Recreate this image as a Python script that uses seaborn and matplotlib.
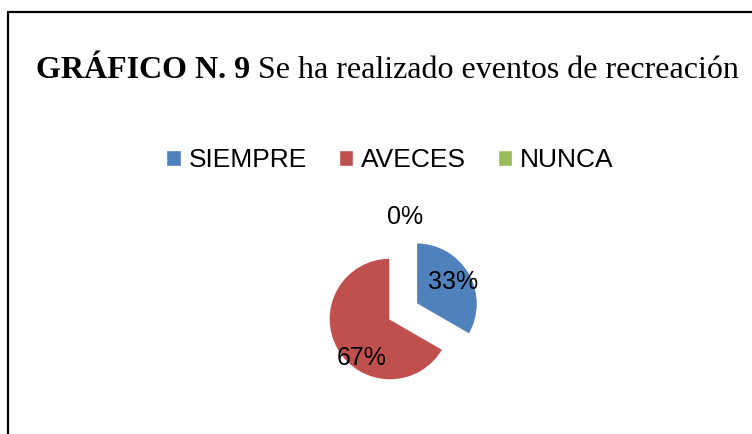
import matplotlib
matplotlib.use("Agg")
import matplotlib.pyplot as plt
import seaborn as sns
from matplotlib.lines import Line2D

sns.set_style("white")
plt.rcParams["font.family"] = ["Liberation Sans", "DejaVu Sans"]
plt.rcParams["text.color"] = "black"

# Datos del gráfico
categorias = ["SIEMPRE", "AVECES", "NUNCA"]
valores = [1, 2, 0]
colores = ["#4F81BD", "#C0504D", "#9BBB59"]
titulo_negrita = "GRÁFICO N. 9"
titulo_normal = " Se ha realizado eventos de recreación"

W, H = 752, 434
fig = plt.figure(figsize=(W / 100, H / 100), dpi=100)
fig.patch.set_facecolor("white")

# Marco del gráfico (recortado a la derecha y abajo)
fig.add_artist(Line2D([8 / W, 1], [1 - 12 / H, 1 - 12 / H], color="black", lw=1.6))
fig.add_artist(Line2D([8 / W, 8 / W], [0, 1 - 12 / H], color="black", lw=1.6))

# Título: parte en negrita + parte normal
renderer = fig.canvas.get_renderer()
t1 = fig.text(36 / W, 1 - 78 / H, titulo_negrita, fontsize=23, fontweight="bold",
              family="Liberation Serif", ha="left", va="baseline", color="black")
bb = t1.get_window_extent(renderer=renderer)
fig.text(bb.x1 / W, 1 - 78 / H, titulo_normal, fontsize=23,
         family="Liberation Serif", ha="left", va="baseline", color="black")

# Pastel
R = 61
cx, cy = 390, 319
half = 120
ax = fig.add_axes([(cx - half) / W, (H - cy - half) / H, 2 * half / W, 2 * half / H])
wedges, textos, autotextos = ax.pie(
    valores, colors=colores, explode=[0.5, 0, 0.97], startangle=90,
    counterclock=False, autopct="%1.0f%%", pctdistance=0.7,
    textprops={"fontsize": 18, "color": "black"},
)
# ajuste fino de las etiquetas como en Excel
autotextos[1].set_position((-0.46, -0.64))
autotextos[2].set_x(0.25)
lim = half / R
ax.set_xlim(-lim, lim)
ax.set_ylim(-lim, lim)
ax.set_aspect("equal")
ax.axis("off")

fig.legend(wedges, categorias, loc="center", bbox_to_anchor=(390 / W, 1 - 160 / H),
           ncol=3, frameon=False, fontsize=19, handlelength=0.55, handleheight=0.55,
           handletextpad=0.3, columnspacing=1.2, labelcolor="black")

fig.savefig("out.png", dpi=100)
